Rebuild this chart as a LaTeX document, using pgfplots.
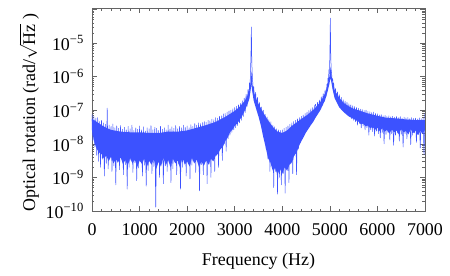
\documentclass[border=0pt]{standalone}
\usepackage{fontspec}
\setmainfont{Liberation Serif}
\usepackage{pgfplots}
\pgfplotsset{compat=1.18}
\definecolor{sig}{RGB}{60,82,255}
\definecolor{framec}{RGB}{100,100,100}
\begin{document}
\begin{tikzpicture}
\begin{axis}[
  at={(0,0)}, anchor=south west,
  scale only axis, width=333bp, height=203bp,
  xmin=0, xmax=7000, ymin=1e-10, ymax=1.1e-4,
  ymode=log,
  axis line style={framec, line width=0.6bp},
  tick style={framec, line width=0.5bp},
  tick align=inside,
  major tick length=5bp, minor tick length=2.5bp,
  xtick={0,1000,2000,3000,4000,5000,6000,7000},
  xticklabels={0,1000,2000,3000,4000,5000,6000,7000},
  minor x tick num=4,
  ytick={1e-10,1e-9,1e-8,1e-7,1e-6,1e-5,1e-4},
  yticklabels={10\textsuperscript{−10},10\textsuperscript{−9},10\textsuperscript{−8},10\textsuperscript{−7},10\textsuperscript{−6},10\textsuperscript{−5},{}},
  minor ytick={2e-10,3e-10,4e-10,5e-10,6e-10,7e-10,8e-10,9e-10,
    2e-9,3e-9,4e-9,5e-9,6e-9,7e-9,8e-9,9e-9,
    2e-8,3e-8,4e-8,5e-8,6e-8,7e-8,8e-8,9e-8,
    2e-7,3e-7,4e-7,5e-7,6e-7,7e-7,8e-7,9e-7,
    2e-6,3e-6,4e-6,5e-6,6e-6,7e-6,8e-6,9e-6,
    2e-5,3e-5,4e-5,5e-5,6e-5,7e-5,8e-5,9e-5},
  every tick label/.append style={font=\fontsize{18}{20}\selectfont, inner sep=0pt, text=black},
  xticklabel style={yshift=-12bp},
  yticklabel style={xshift=-8bp},
  xlabel={Frequency (Hz)},
  ylabel={Optical rotation (rad/$\sqrt{\mbox{Hz}}$\ )},
  label style={font=\fontsize{18}{20}\selectfont},
  xlabel style={at={(axis description cs:0.5,-0.266)}, anchor=base},
  ylabel style={at={(axis description cs:-0.171,0.485)}, anchor=base},
]
% dense band of the spectrum: upper edge left to right, lower edge right to left
\addplot[fill=sig, draw=none, mark=none] coordinates {
(0,5.5e-8)(100,4.5e-8)(200,3.6e-8)(300,3.0e-8)(400,2.6e-8)(600,2.3e-8)(800,2.2e-8)(1000,2.2e-8)
(1200,2.1e-8)(1400,2.1e-8)(1600,2.3e-8)(1800,2.3e-8)(2000,2.5e-8)(2200,3.0e-8)(2400,3.6e-8)(2600,4.5e-8)
(2800,6.3e-8)(3000,9.5e-8)(3100,1.25e-7)(3200,1.8e-7)(3250,2.4e-7)(3300,3.4e-7)(3330,6e-7)(3350,1.5e-6)
(3370,6e-7)(3400,3.5e-7)(3450,2.2e-7)(3500,1.55e-7)(3600,8.5e-8)(3700,5.0e-8)(3800,3.2e-8)(3900,2.3e-8)
(4000,2.1e-8)(4100,2.5e-8)(4200,3.4e-8)(4300,4.3e-8)(4400,5.5e-8)(4500,6.8e-8)(4600,8.8e-8)(4700,1.2e-7)
(4800,1.75e-7)(4900,3.1e-7)(4950,5.5e-7)(4990,1.0e-6)(5010,2e-6)(5030,1.2e-6)(5060,6.5e-7)(5100,3.8e-7)
(5200,2.3e-7)(5300,1.6e-7)(5400,1.3e-7)(5500,1.1e-7)(5600,1.0e-7)(5800,8.0e-8)(6000,6.8e-8)(6200,5.9e-8)
(6400,5.7e-8)(6600,5.3e-8)(6800,5.1e-8)(7000,5.1e-8)
(7000,2.6e-8)(6950,2.0e-8)(6900,2.4e-8)(6850,1.8e-8)(6800,2.5e-8)(6750,2.1e-8)(6700,2.7e-8)(6650,1.9e-8)
(6600,2.4e-8)(6550,2.2e-8)(6500,2.8e-8)(6450,1.9e-8)(6400,2.5e-8)(6350,2.2e-8)(6300,2.7e-8)(6250,2.0e-8)
(6200,2.6e-8)(6150,2.3e-8)(6100,2.9e-8)(6050,2.4e-8)(6000,3.0e-8)(5950,2.6e-8)(5900,3.2e-8)(5850,2.9e-8)
(5800,3.5e-8)(5750,3.3e-8)(5700,4.0e-8)(5650,3.8e-8)(5600,4.6e-8)(5550,5.0e-8)(5500,5.5e-8)(5400,6.5e-8)
(5300,8.5e-8)(5200,1.2e-7)(5100,2.3e-7)(5060,4e-7)(5030,7e-7)(5010,9e-7)(4990,6e-7)(4950,3.5e-7)
(4900,2.0e-7)(4800,1.0e-7)(4700,6.0e-8)(4650,4.5e-8)(4600,3.6e-8)(4550,2.8e-8)(4500,2.2e-8)(4450,1.6e-8)
(4400,1.2e-8)(4350,8.5e-9)(4300,5.5e-9)(4250,4.5e-9)(4200,2.8e-9)(4150,2.4e-9)(4100,1.6e-9)(4050,2.0e-9)
(4000,1.3e-9)(3950,1.8e-9)(3900,1.2e-9)(3850,1.9e-9)(3800,1.6e-9)(3750,2.8e-9)(3700,3.8e-9)(3650,8e-9)
(3600,1.6e-8)(3550,3.5e-8)(3500,6.5e-8)(3450,1.1e-7)(3400,1.9e-7)(3370,3.5e-7)(3350,6e-7)(3330,3.5e-7)
(3300,2.0e-7)(3250,1.3e-7)(3200,9.0e-8)(3150,6.5e-8)(3100,5.0e-8)(3050,4.0e-8)(3000,3.4e-8)(2950,2.6e-8)
(2900,2.2e-8)(2850,1.5e-8)(2800,1.2e-8)(2750,8.0e-9)(2700,7.0e-9)(2650,5.0e-9)(2600,4.5e-9)(2550,3.0e-9)
(2500,3.6e-9)(2450,2.4e-9)(2400,3.2e-9)(2350,2.2e-9)(2300,3.0e-9)(2250,2.0e-9)(2200,3.4e-9)(2150,2.6e-9)
(2100,3.8e-9)(2050,2.1e-9)(2000,3.0e-9)(1950,2.4e-9)(1900,4.0e-9)(1850,1.9e-9)(1800,3.2e-9)(1750,2.6e-9)
(1700,3.6e-9)(1650,2.0e-9)(1600,3.3e-9)(1550,2.3e-9)(1500,3.9e-9)(1450,2.1e-9)(1400,2.9e-9)(1350,1.8e-9)
(1300,3.5e-9)(1250,2.4e-9)(1200,3.1e-9)(1150,2.0e-9)(1100,3.7e-9)(1050,2.5e-9)(1000,3.2e-9)(950,2.0e-9)
(900,3.4e-9)(850,2.6e-9)(800,3.8e-9)(750,2.2e-9)(700,3.3e-9)(650,2.5e-9)(600,4.0e-9)(550,2.8e-9)
(500,3.5e-9)(450,2.6e-9)(400,4.2e-9)(350,3.0e-9)(300,4.5e-9)(250,3.6e-9)(200,5.0e-9)(150,5.5e-9)
(100,7.0e-9)(60,1.0e-8)(30,1.5e-8)(0,2.5e-8)
} --cycle;
\addplot[sig, line width=0.5bp, line join=round, mark=none] coordinates {
(0,7.5e-8)(20,1.2e-8)(40,6.5e-8)(60,8e-9)(80,5.8e-8)(100,4.5e-9)(120,6.0e-8)(140,3.0e-9)
(160,4.6e-8)(180,2.0e-9)(200,5.0e-8)(220,3.5e-9)(240,4.2e-8)(260,1.1e-9)(280,3.8e-8)(300,2.6e-9)
(320,1.15e-7)(340,1.8e-9)(360,3.6e-8)(380,4.0e-9)(400,3.3e-8)(420,1.5e-9)(440,3.9e-8)(460,2.2e-9)
(480,3.0e-8)(500,6.0e-10)(520,3.4e-8)(540,2.8e-9)(560,2.9e-8)(580,1.7e-9)(600,3.5e-8)(620,3.6e-9)
(640,2.7e-8)(660,1.2e-9)(680,3.1e-8)(700,2.4e-9)(720,2.6e-8)(740,4.5e-10)(760,3.3e-8)(780,2.0e-9)
(800,2.8e-8)(820,3.2e-9)(840,3.6e-8)(860,1.4e-9)(880,2.5e-8)(900,2.7e-9)(920,3.0e-8)(940,8.0e-10)
(960,2.7e-8)(980,1.9e-9)(1000,3.4e-8)(1020,3.0e-9)(1040,2.6e-8)(1060,1.1e-9)(1080,3.2e-8)(1100,2.3e-9)
(1120,2.4e-8)(1140,5.5e-10)(1160,3.0e-8)(1180,1.6e-9)(1200,2.8e-8)(1220,3.4e-9)(1240,3.5e-8)(1260,1.3e-9)
(1280,2.6e-8)(1300,2.1e-9)(1320,3.1e-8)(1340,1.3e-10)(1360,2.9e-8)(1380,2.6e-9)(1400,2.5e-8)(1420,1.0e-9)
(1440,3.3e-8)(1460,3.1e-9)(1480,2.7e-8)(1500,6.5e-10)(1520,3.0e-8)(1540,2.2e-9)(1560,2.6e-8)(1580,1.5e-9)
(1600,3.6e-8)(1620,2.8e-9)(1640,2.8e-8)(1660,7.0e-10)(1680,3.2e-8)(1700,1.8e-9)(1720,2.9e-8)(1740,3.3e-9)
(1760,3.5e-8)(1780,1.2e-9)(1800,2.8e-8)(1820,2.5e-9)(1840,3.3e-8)(1860,4.5e-10)(1880,3.0e-8)(1900,2.0e-9)
(1920,3.6e-8)(1940,3.4e-9)(1960,3.1e-8)(1980,1.1e-9)(2000,3.4e-8)(2020,2.6e-9)(2040,3.0e-8)(2060,9.0e-10)
(2080,3.7e-8)(2100,2.3e-9)(2120,3.3e-8)(2140,3.8e-9)(2160,4.0e-8)(2180,1.4e-9)(2200,3.6e-8)(2220,3.0e-9)
(2240,4.2e-8)(2260,4.0e-10)(2280,4.0e-8)(2300,2.4e-9)(2320,4.3e-8)(2340,1.2e-9)(2360,4.6e-8)(2380,3.0e-9)
(2400,4.4e-8)(2420,6.5e-10)(2440,5.0e-8)(2460,2.5e-9)(2480,4.8e-8)(2500,1.0e-9)(2520,5.4e-8)(2540,3.2e-9)
(2560,5.2e-8)(2580,1.5e-9)(2600,6.0e-8)(2620,4.5e-9)(2640,5.8e-8)(2660,2.0e-9)(2680,6.6e-8)(2700,7.0e-9)
(2720,6.8e-8)(2740,3.2e-9)(2760,7.8e-8)(2780,1.0e-8)(2800,8.0e-8)(2820,6.0e-9)(2840,8.8e-8)(2860,1.4e-8)
(2880,9.5e-8)(2900,1.8e-8)(2920,1.0e-7)(2940,2.2e-8)(2960,1.1e-7)(2980,2.6e-8)(3000,1.2e-7)(3020,3.0e-8)
(3040,1.3e-7)(3060,3.5e-8)(3080,1.45e-7)(3100,4.2e-8)(3120,1.6e-7)(3140,5.0e-8)(3160,1.9e-7)(3180,6.5e-8)
(3200,2.3e-7)(3220,8.5e-8)(3240,3.0e-7)(3260,1.3e-7)(3280,4.2e-7)(3300,2.2e-7)(3310,6.5e-7)(3320,4.0e-7)
(3330,1.2e-6)(3340,3.5e-6)(3350,3.0e-5)(3360,2.5e-6)(3370,1.1e-6)(3380,6.5e-7)(3390,3.5e-7)
(3400,5.0e-7)(3420,1.8e-7)(3440,3.4e-7)(3460,1.1e-7)(3480,2.4e-7)(3500,7.0e-8)(3520,1.7e-7)(3540,4.5e-8)
(3560,1.25e-7)(3580,2.8e-8)(3600,1.0e-7)(3620,1.5e-8)(3640,7.5e-8)(3660,7.0e-9)(3680,6.3e-8)(3700,3.5e-9)
(3720,5.2e-8)(3740,1.5e-9)(3760,4.5e-8)(3780,2.2e-9)(3800,3.6e-8)(3820,5.0e-10)(3840,3.2e-8)(3860,1.5e-9)
(3880,2.8e-8)(3900,3.2e-10)(3920,2.6e-8)(3940,1.0e-9)(3960,2.5e-8)(3980,6.0e-10)(4000,2.6e-8)(4020,1.3e-9)
(4040,2.9e-8)(4060,3.4e-10)(4080,3.1e-8)(4100,1.6e-9)(4120,3.4e-8)(4140,7.0e-10)(4160,3.8e-8)(4180,2.5e-9)
(4200,4.2e-8)(4220,1.3e-9)(4240,4.6e-8)(4260,4.5e-9)(4280,5.0e-8)(4300,1.2e-9)(4320,5.5e-8)(4340,7.0e-9)
(4360,6.0e-8)(4380,1.1e-8)(4400,6.6e-8)(4420,1.4e-8)(4440,7.2e-8)(4460,1.9e-8)(4480,8.0e-8)(4500,2.3e-8)
(4520,8.8e-8)(4540,3.0e-8)(4560,9.8e-8)(4580,3.6e-8)(4600,1.1e-7)(4620,4.2e-8)(4640,1.2e-7)(4660,5.2e-8)
(4680,1.35e-7)(4700,1.5e-7)(4720,7.0e-8)(4740,1.7e-7)(4760,9.0e-8)(4780,2.0e-7)(4800,1.1e-7)(4820,2.5e-7)
(4840,1.4e-7)(4860,3.1e-7)(4880,1.8e-7)(4900,4.0e-7)(4920,2.6e-7)(4940,6.0e-7)(4950,4.0e-7)(4960,9.0e-7)
(4970,6.5e-7)(4980,1.6e-6)(4990,1.2e-6)(5000,4.0e-6)(5010,5.5e-5)(5020,3.5e-6)(5030,1.5e-6)(5040,1.1e-6)
(5050,7.5e-7)(5060,8.5e-7)(5070,4.5e-7)(5080,6.5e-7)(5100,3.0e-7)(5120,4.4e-7)(5140,2.2e-7)(5160,3.5e-7)
(5180,1.7e-7)(5200,2.9e-7)(5220,1.35e-7)(5240,2.4e-7)(5260,1.1e-7)(5280,2.05e-7)(5300,9.5e-8)(5320,1.85e-7)
(5340,8.5e-8)(5360,1.7e-7)(5380,7.5e-8)(5400,1.55e-7)(5420,6.5e-8)(5440,1.45e-7)(5460,5.5e-8)(5480,1.35e-7)
(5500,5.0e-8)(5520,1.28e-7)(5540,4.5e-8)(5560,1.2e-7)(5580,3.6e-8)(5600,1.15e-7)(5620,4.0e-8)(5640,1.08e-7)
(5660,3.0e-8)(5680,1.05e-7)(5700,3.4e-8)(5720,9.8e-8)(5740,2.6e-8)(5760,1.0e-7)(5780,3.0e-8)(5800,9.2e-8)
(5820,1.8e-8)(5840,9.0e-8)(5860,2.6e-8)(5880,8.5e-8)(5900,2.3e-8)(5920,8.8e-8)(5940,1.7e-8)(5960,8.0e-8)
(5980,2.4e-8)(6000,7.8e-8)(6020,2.0e-8)(6040,7.2e-8)(6060,1.5e-8)(6080,7.4e-8)(6100,2.1e-8)(6120,6.8e-8)
(6140,1.0e-8)(6160,7.0e-8)(6180,1.9e-8)(6200,6.5e-8)(6220,2.2e-8)(6240,6.8e-8)(6260,1.3e-8)(6280,6.3e-8)
(6300,2.0e-8)(6320,6.6e-8)(6340,9.0e-9)(6360,6.2e-8)(6380,1.8e-8)(6400,6.5e-8)(6420,2.1e-8)(6440,6.0e-8)
(6460,1.2e-8)(6480,6.4e-8)(6500,1.9e-8)(6520,5.8e-8)(6540,8.0e-9)(6560,6.2e-8)(6580,2.0e-8)(6600,5.9e-8)
(6620,1.4e-8)(6640,6.1e-8)(6660,2.2e-8)(6680,5.6e-8)(6700,9.5e-9)(6720,6.0e-8)(6740,1.8e-8)(6760,5.7e-8)
(6780,2.1e-8)(6800,5.8e-8)(6820,1.1e-8)(6840,5.5e-8)(6860,1.9e-8)(6880,5.9e-8)(6900,7.5e-9)(6920,5.6e-8)
(6940,2.0e-8)(6960,5.8e-8)(6980,4.8e-9)(7000,8.0e-8)
};
\end{axis}
\pgfresetboundingbox
\path[use as bounding box] (-92bp,-65bp) rectangle (358bp,211bp);
\end{tikzpicture}
\end{document}
